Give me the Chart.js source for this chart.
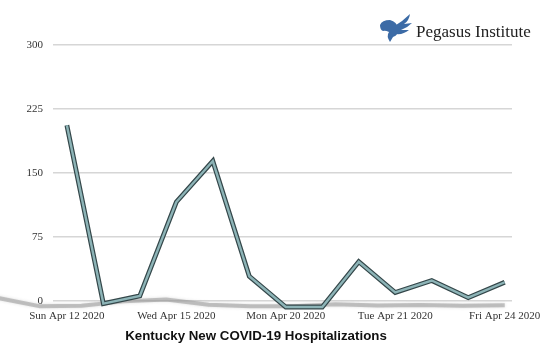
<!DOCTYPE html>
<html>
<head>
<meta charset="utf-8">
<script src="https://cdn.jsdelivr.net/npm/chart.js@4.4.1/dist/chart.umd.min.js"></script>
<style>
html,body{margin:0;padding:0;background:#fff;}
#wrap{width:555px;height:355px;position:relative;}
</style>
</head>
<body>
<div id="wrap"><canvas id="c" width="555" height="355"></canvas></div>
<script>
const categories = ['Sun Apr 12 2020','','','Wed Apr 15 2020','','','Mon Apr 20 2020','','','Tue Apr 21 2020','','','Fri Apr 24 2020'];
const values = [206,-3,6,116,164,29,-7,-7,46,10,24,4,22];
const yTicks = [0,75,150,225,300];
const titleText = 'Kentucky New COVID-19 Hospitalizations';
const logoText = 'Pegasus Institute';

const points = values.map((v,i)=>({x:i,y:v}));

const shadowPlugin = {
  id:'floorShadow',
  beforeDatasetsDraw(chart){
    const ctx = chart.ctx, xs = chart.scales.x, ys = chart.scales.y;
    const z = ys.getPixelForValue(0);
    const x0 = xs.getPixelForValue(0);
    ctx.save();
    ctx.beginPath();
    values.forEach((v,i)=>{
      const px = xs.getPixelForValue(i);
      const sx = px - 70 + (px - x0)*0.16;
      const sy = z + 5 - v*0.04;
      if(i===0){ ctx.moveTo(sx-30, sy-1); }
      ctx.lineTo(sx, sy);
    });
    ctx.lineWidth = 4;
    ctx.strokeStyle = 'rgba(150,150,150,0.5)';
    ctx.shadowColor = 'rgba(120,120,120,0.5)';
    ctx.shadowBlur = 3;
    ctx.lineJoin = 'round';
    ctx.stroke();
    ctx.restore();
  }
};

const logoPlugin = {
  id:'logo',
  afterDraw(chart){
    const ctx = chart.ctx;
    ctx.save();
    ctx.fillStyle = '#3c6ba6';
    // wing
    ctx.beginPath();
    ctx.moveTo(393,27);
    ctx.quadraticCurveTo(402,22,410,14);
    ctx.quadraticCurveTo(409,21,404,24);
    ctx.lineTo(412,23);
    ctx.quadraticCurveTo(407,28,401,30);
    ctx.lineTo(409,30);
    ctx.quadraticCurveTo(403,35,396,34);
    ctx.closePath();
    ctx.fill();
    // head / body
    ctx.beginPath();
    ctx.moveTo(380,25);
    ctx.quadraticCurveTo(382,20,390,20);
    ctx.quadraticCurveTo(397,22,398,28);
    ctx.quadraticCurveTo(399,35,393,37);
    ctx.lineTo(390,42);
    ctx.quadraticCurveTo(386,36,389,32);
    ctx.quadraticCurveTo(385,30,383,31);
    ctx.quadraticCurveTo(380,30,380,25);
    ctx.closePath();
    ctx.fill();
    // text
    ctx.fillStyle = '#222';
    ctx.font = '17px "Liberation Serif"';
    ctx.textBaseline = 'alphabetic';
    ctx.textAlign = 'left';
    ctx.fillText(logoText, 416, 37);
    ctx.restore();
  }
};

new Chart(document.getElementById('c'), {
  type:'line',
  data:{
    datasets:[
      {data:points, borderColor:'#8db4b7', borderWidth:2.4, pointRadius:0, tension:0, clip:false, borderJoinStyle:'miter'},
      {data:points, borderColor:'#34474a', borderWidth:4.8, pointRadius:0, tension:0, clip:false, borderJoinStyle:'miter'}
    ]
  },
  options:{
    responsive:false,
    animation:false,
    events:[],
    layout:{padding:{top:45,right:43,bottom:3,left:0}},
    plugins:{
      legend:{display:false},
      tooltip:{enabled:false},
      title:{display:true, position:'bottom', text:titleText, color:'#111',
        font:{family:'"Liberation Sans", Arial, sans-serif', size:13.3, weight:'bold'},
        padding:{top:3,bottom:8}}
    },
    scales:{
      x:{
        type:'linear', min:-0.38, max:12.2,
        grid:{display:false, drawTicks:false}, border:{display:false},
        afterBuildTicks(scale){
          scale.ticks = categories.map((c,i)=>({value:i,label:c})).filter(t=>t.label!=='').map(t=>({value:t.value}));
        },
        ticks:{
          autoSkip:false, maxRotation:0, padding:2, color:'#333',
          font:{family:'"Liberation Serif", serif', size:11},
          callback:(v)=>categories[v]
        }
      },
      y:{
        min:-8, max:300,
        grid:{color:'#d6d6d6', lineWidth:1.5, drawTicks:false},
        border:{display:false},
        afterBuildTicks(scale){ scale.ticks = yTicks.map(v=>({value:v})); },
        afterFit(scale){ scale.width = 53; },
        ticks:{padding:10, color:'#333', font:{family:'"Liberation Serif", serif', size:11}}
      }
    }
  },
  plugins:[shadowPlugin, logoPlugin]
});
</script>
</body>
</html>
